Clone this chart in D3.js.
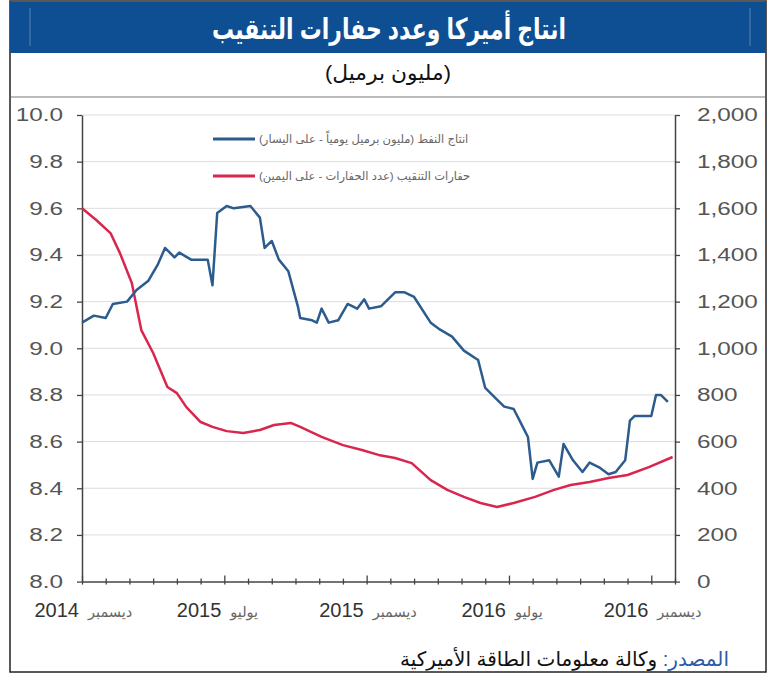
<!DOCTYPE html>
<html>
<head>
<meta charset="utf-8">
<script src="https://cdn.jsdelivr.net/npm/d3@7"></script>
<style>
  body { margin: 0; background: #fff; }
  svg { display: block; font-family: Arial, "Liberation Sans", "DejaVu Sans", sans-serif; }
  .rtl { direction: rtl; unicode-bidi: embed; }
</style>
</head>
<body>
<svg width="770" height="695"></svg>
<script>
// months since Dec 2014 (x position) and values

// oil production, million barrels / day (left axis)
var oilT = [0, 0.5, 1.0, 1.3, 1.9, 2.3, 2.8, 3.2, 3.5, 3.9, 4.1, 4.6, 5.3, 5.5, 5.7, 6.1, 6.4, 7.1, 7.5, 7.7,
            8.0, 8.3, 8.7, 9.1, 9.2, 9.7, 9.9, 10.1, 10.4, 10.8, 11.2, 11.6, 11.9, 12.1, 12.6, 13.2, 13.6, 14.0, 14.7, 15.1,
            15.6, 16.1, 16.7, 17.0, 17.4, 17.8, 18.2, 18.6, 18.8, 19.0, 19.2, 19.7, 20.1, 20.3, 20.7, 21.1, 21.4, 21.8, 22.2, 22.5,
            22.9, 23.1, 23.3, 23.9, 24.0, 24.2, 24.4, 24.7];
var oilV = [9.11, 9.14, 9.13, 9.19, 9.20, 9.25, 9.29, 9.36, 9.43, 9.39, 9.41, 9.38, 9.38, 9.27, 9.58, 9.61, 9.60, 9.61, 9.56, 9.43,
            9.46, 9.38, 9.33, 9.18, 9.13, 9.12, 9.11, 9.17, 9.11, 9.12, 9.19, 9.17, 9.21, 9.17, 9.18, 9.24, 9.24, 9.22, 9.11, 9.08,
            9.05, 8.99, 8.95, 8.83, 8.79, 8.75, 8.74, 8.66, 8.62, 8.44, 8.51, 8.52, 8.45, 8.59, 8.52, 8.47, 8.51, 8.49, 8.46, 8.47,
            8.52, 8.69, 8.71, 8.71, 8.71, 8.80, 8.80, 8.77];

// drilling rigs count (right axis)
var rigT = [0, 0.6, 1.2, 1.6, 2.1, 2.5, 3.0, 3.6, 4.0, 4.4, 5.0, 5.5, 6.1, 6.8, 7.5, 8.1, 8.8, 9.2, 10.1, 11.0,
            11.8, 12.5, 13.2, 13.9, 14.7, 15.4, 16.1, 16.8, 17.5, 18.2, 19.1, 19.9, 20.6, 21.4, 22.2, 23.0, 23.9, 24.9];
var rigV = [1600, 1550, 1494, 1408, 1280, 1078, 980, 834, 808, 748, 684, 663, 645, 637, 650, 671, 680, 663, 620, 585,
            564, 543, 530, 508, 435, 393, 363, 337, 320, 337, 363, 393, 414, 427, 444, 457, 491, 534];

// x axis labels
var xLabelPos = [0, 6, 12, 18, 24];
var xLabelYear = ["2014", "2015", "2015", "2016", "2016"];
var xLabelMonth = ["ديسمبر", "يوليو", "ديسمبر", "يوليو", "ديسمبر"];

var leftTicks = [8.0, 8.2, 8.4, 8.6, 8.8, 9.0, 9.2, 9.4, 9.6, 9.8, 10.0];
var rightTicks = [0, 200, 400, 600, 800, 1000, 1200, 1400, 1600, 1800, 2000];

var titleText = "انتاج أميركا وعدد حفارات التنقيب";
var subtitleText = "(مليون برميل)";
var legendOil = "انتاج النفط (مليون برميل يومياً - على اليسار)";
var legendRig = "حفارات التنقيب (عدد الحفارات - على اليمين)";
var sourceLabel = "المصدر:";
var sourceText = " وكالة معلومات الطاقة الأميركية";

var blue = "#2c5b8e", red = "#d9264f";

var svg = d3.select("svg");

// squeeze/stretch a text to a given width
function fitWidth(el, w) {
  el.attr("textLength", w).attr("lengthAdjust", "spacingAndGlyphs");
}

// frame and title bar
svg.append("rect").attr("x", 10).attr("y", 1).attr("width", 756).attr("height", 671)
    .attr("fill", "#fff").attr("stroke", "#222").attr("stroke-width", 1.5);
svg.append("rect").attr("x", 10).attr("y", 2).attr("width", 756).attr("height", 51)
    .attr("fill", "#0d4f92");
[30, 750].forEach(function(px) {
  svg.append("line").attr("x1", px).attr("x2", px).attr("y1", 8).attr("y2", 46)
      .attr("stroke", "#fff").attr("stroke-opacity", 0.3);
});
var title = svg.append("text").attr("class", "rtl").attr("x", 389).attr("y", 39)
    .attr("text-anchor", "middle").attr("fill", "#fff")
    .attr("font-size", 29).attr("font-weight", "bold").text(titleText);
fitWidth(title, 354);
var subtitle = svg.append("text").attr("class", "rtl").attr("x", 388).attr("y", 80)
    .attr("text-anchor", "middle").attr("fill", "#111")
    .attr("font-size", 21).text(subtitleText);
fitWidth(subtitle, 126);
svg.append("line").attr("x1", 11).attr("x2", 765).attr("y1", 97).attr("y2", 97)
    .attr("stroke", "#bbb").attr("stroke-width", 2);

// scales
var x = d3.scaleLinear().domain([0, 25]).range([82, 675]),
    yL = d3.scaleLinear().domain([8, 10]).range([581.6, 115]),
    yR = d3.scaleLinear().domain([0, 2000]).range([581.6, 115]);

// grid
svg.append("g").selectAll("line").data(leftTicks.slice(1)).enter().append("line")
    .attr("x1", 82).attr("x2", 675)
    .attr("y1", function(d) { return yL(d); }).attr("y2", function(d) { return yL(d); })
    .attr("stroke", "#dcdcdc");

// axes
function stretch(sel, k) {
  sel.selectAll("text").each(function() {
    var len = this.getComputedTextLength();
    d3.select(this).attr("textLength", len * k).attr("lengthAdjust", "spacingAndGlyphs");
  });
}

var gL = svg.append("g").attr("transform", "translate(82,0)")
    .call(d3.axisLeft(yL).tickValues(leftTicks).tickSize(5).tickSizeOuter(0).tickPadding(14).tickFormat(d3.format(".1f")));
var gR = svg.append("g").attr("transform", "translate(675,0)")
    .call(d3.axisRight(yR).tickValues(rightTicks).tickSize(5).tickSizeOuter(0).tickPadding(17).tickFormat(d3.format(",")));
[gL, gR].forEach(function(g) {
  g.attr("font-family", null).attr("font-size", 18);
  g.selectAll("text").attr("fill", "#555");
  g.select(".domain").attr("stroke", "#444").attr("stroke-width", 1.5);
  g.selectAll(".tick line").attr("stroke", "#444").attr("stroke-width", 1.3);
  stretch(g, 1.35);
});

var gX = svg.append("g").attr("transform", "translate(0,581.6)")
    .call(d3.axisBottom(x).tickValues(d3.range(0, 26)).tickSizeOuter(0).tickFormat(""));
gX.select(".domain").attr("stroke", "#444").attr("stroke-width", 1.5);
gX.selectAll(".tick line").attr("stroke", "#444").attr("stroke-width", 1.3)
    .attr("y1", function(d) { return xLabelPos.indexOf(d) >= 0 ? -6 : -3; })
    .attr("y2", 3);

var xl = svg.append("g").selectAll("g").data(xLabelPos).enter().append("g")
    .attr("transform", function(d) { return "translate(" + x(d) + ",617)"; });
xl.append("text").attr("x", -3).attr("text-anchor", "end")
    .attr("font-size", 20).attr("fill", "#333")
    .text(function(d, i) { return xLabelYear[i]; });
xl.append("text").attr("class", "rtl").attr("x", 6).attr("text-anchor", "end")
    .attr("font-size", 14.5).attr("fill", "#666")
    .text(function(d, i) { return xLabelMonth[i]; });

// series
var lineOil = d3.line().x(function(d) { return x(d[0]); }).y(function(d) { return yL(d[1]); });
var lineRig = d3.line().x(function(d) { return x(d[0]); }).y(function(d) { return yR(d[1]); });

svg.append("path").datum(d3.zip(rigT, rigV)).attr("d", lineRig)
    .attr("fill", "none").attr("stroke", red).attr("stroke-width", 2.5).attr("stroke-linejoin", "round");
svg.append("path").datum(d3.zip(oilT, oilV)).attr("d", lineOil)
    .attr("fill", "none").attr("stroke", blue).attr("stroke-width", 2.5).attr("stroke-linejoin", "round");

// legend
var legend = [[legendOil, blue, 139], [legendRig, red, 176]];
legend.forEach(function(l) {
  svg.append("line").attr("x1", 213).attr("x2", 255).attr("y1", l[2]).attr("y2", l[2])
      .attr("stroke", l[1]).attr("stroke-width", 3);
  svg.append("text").attr("class", "rtl").attr("x", 259).attr("y", l[2] + 4)
      .attr("text-anchor", "end").attr("font-size", 11.5).attr("fill", "#666").text(l[0]);
});

// source
var src = svg.append("text").attr("class", "rtl").attr("x", 729).attr("y", 666)
    .attr("text-anchor", "start").attr("font-size", 20);
src.append("tspan").attr("fill", "#2a5ba8").text(sourceLabel);
src.append("tspan").attr("fill", "#111").text(sourceText);
</script>
</body>
</html>
